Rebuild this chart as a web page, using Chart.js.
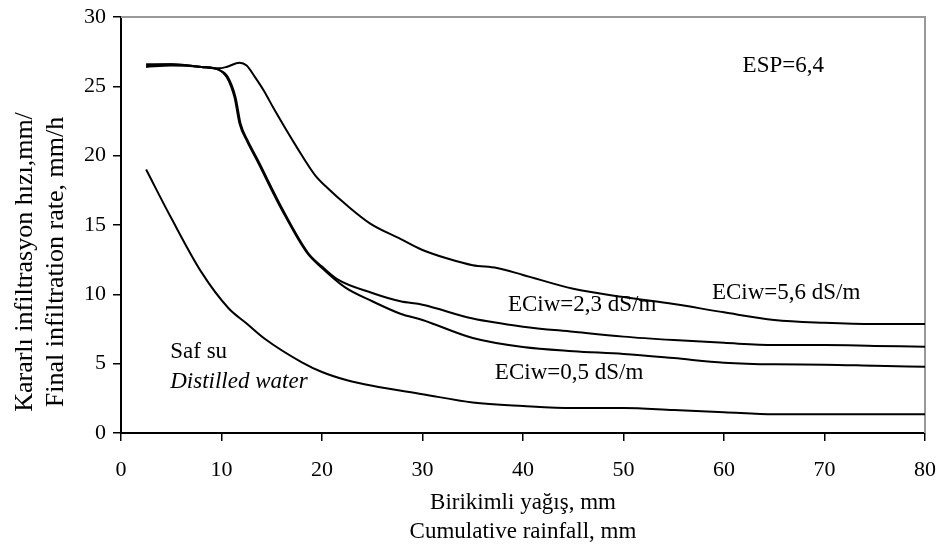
<!DOCTYPE html>
<html>
<head>
<meta charset="utf-8">
<script src="https://cdn.jsdelivr.net/npm/chart.js@4/dist/chart.umd.min.js"></script>
<style>
html,body{margin:0;padding:0;background:#fff;}
canvas{display:block;}
</style>
</head>
<body>
<canvas id="c" width="938" height="551"></canvas>
<script>
// ---- data ----
const distilledX = [2.5, 5, 8, 10.7, 12.5, 14.3, 18, 20, 22.5, 25, 30, 35, 40, 45, 50, 55, 60, 65, 70, 75, 80];
const distilledY = [19, 15.5, 11.6, 9.0, 7.9, 6.8, 5.1, 4.4, 3.8, 3.4, 2.8, 2.2, 1.95, 1.8, 1.8, 1.65, 1.5, 1.35, 1.35, 1.35, 1.35];

const ec05X = [2.5, 5, 8, 9.7, 10.5, 11.3, 11.8, 12.5, 13.5, 16, 18.5, 20, 22.3, 25, 27.8, 30, 35, 40, 45, 50, 55, 60, 65, 70, 75, 80];
const ec05Y = [26.4, 26.5, 26.4, 26.2, 25.7, 24.2, 22.3, 21.1, 19.7, 16.1, 13.0, 11.9, 10.5, 9.5, 8.6, 8.15, 6.85, 6.2, 5.9, 5.7, 5.4, 5.07, 4.95, 4.93, 4.85, 4.78];

const ec23X = [2.5, 5, 8, 9.7, 10.6, 11.4, 11.9, 12.6, 13.6, 16.1, 18.6, 20, 21.5, 25, 27.8, 30, 35, 40, 45, 50, 55, 60, 65, 70, 75, 80];
const ec23Y = [26.5, 26.6, 26.4, 26.2, 25.7, 24.2, 22.3, 21.1, 19.7, 16.1, 13.0, 12.0, 11.1, 10.1, 9.5, 9.25, 8.25, 7.67, 7.3, 6.95, 6.7, 6.5, 6.34, 6.34, 6.28, 6.22];

const ec56X = [2.5, 5, 8, 9.7, 10.5, 11.8, 12.5, 13.3, 14.2, 15.2, 17.5, 19.3, 20.5, 22.5, 24.8, 27.8, 30, 32.4, 35, 37.4, 40, 45, 50, 55, 60, 65, 70, 75, 80];
const ec56Y = [26.6, 26.6, 26.4, 26.3, 26.4, 26.7, 26.5, 25.7, 24.7, 23.4, 20.6, 18.6, 17.7, 16.4, 15.1, 14.0, 13.2, 12.6, 12.1, 11.9, 11.4, 10.4, 9.8, 9.3, 8.7, 8.15, 7.95, 7.86, 7.86];

const seriesNames = ['Saf su', 'ECiw=0,5 dS/m', 'ECiw=2,3 dS/m', 'ECiw=5,6 dS/m'];

// in-plot text labels and their anchors (data units)
const noteTexts = ['ESP=6,4', 'ECiw=5,6 dS/m', 'ECiw=2,3 dS/m', 'ECiw=0,5 dS/m', 'Saf su', 'Distilled water'];
const noteX = [61.85, 58.8, 38.5, 37.2, 4.9, 4.9];
const noteY = [26.5, 10.1, 9.2, 4.35, 5.85, 3.65];
const noteItalic = [false, false, false, false, false, true];

const xTitleLines = ['Birikimli yağış, mm', 'Cumulative rainfall, mm'];
const yTitleLines = ['Kararlı infiltrasyon hızı,mm/', 'Final infiltration rate, mm/h'];

const FONT = '"Liberation Serif", "Times New Roman", serif';

function pts(xs, ys) { return xs.map((x, i) => ({x: x, y: ys[i]})); }

function ds(label, xs, ys) {
  return {
    label: label,
    data: pts(xs, ys),
    borderColor: '#000',
    borderWidth: 2,
    pointRadius: 0,
    fill: false,
    cubicInterpolationMode: 'monotone'
  };
}

const framePlugin = {
  id: 'frame',
  beforeDatasetsDraw(chart) {
    const {ctx, chartArea: a} = chart;
    ctx.save();
    ctx.strokeStyle = '#999';
    ctx.lineWidth = 2;
    ctx.beginPath();
    ctx.moveTo(a.left, a.top);
    ctx.lineTo(a.right, a.top);
    ctx.lineTo(a.right, a.bottom);
    ctx.stroke();
    ctx.restore();
  }
};

const notesPlugin = {
  id: 'notes',
  afterDraw(chart) {
    const {ctx} = chart;
    const xs = chart.scales.x, ys = chart.scales.y;
    ctx.save();
    ctx.fillStyle = '#000';
    ctx.textAlign = 'left';
    ctx.textBaseline = 'middle';
    noteTexts.forEach((t, i) => {
      ctx.font = (noteItalic[i] ? 'italic ' : '') + '23px ' + FONT;
      ctx.fillText(t, xs.getPixelForValue(noteX[i]), ys.getPixelForValue(noteY[i]));
    });
    // y-axis title (two rotated lines)
    ctx.font = '26px ' + FONT;
    ctx.textAlign = 'center';
    ctx.textBaseline = 'alphabetic';
    const cy = 262;
    const baseX = [32, 63];
    yTitleLines.forEach((t, i) => {
      ctx.save();
      ctx.translate(baseX[i], cy);
      ctx.rotate(-Math.PI / 2);
      ctx.fillText(t, 0, 0);
      ctx.restore();
    });
    ctx.restore();
  }
};

new Chart(document.getElementById('c'), {
  type: 'line',
  data: {
    datasets: [
      ds(seriesNames[0], distilledX, distilledY),
      ds(seriesNames[1], ec05X, ec05Y),
      ds(seriesNames[2], ec23X, ec23Y),
      ds(seriesNames[3], ec56X, ec56Y)
    ]
  },
  options: {
    responsive: false,
    animation: false,
    layout: {padding: {top: 17, right: 13, left: 0, bottom: 0}},
    plugins: {legend: {display: false}, tooltip: {enabled: false}},
    scales: {
      x: {
        type: 'linear',
        min: 0, max: 80,
        ticks: {stepSize: 10, color: '#000', padding: 16, font: {family: FONT, size: 22, lineHeight: 1.2}, maxRotation: 0},
        grid: {display: true, drawOnChartArea: false, drawTicks: true, tickLength: 8, color: '#000', lineWidth: 1.5},
        border: {display: true, color: '#000', width: 2},
        title: {display: true, text: xTitleLines, color: '#000', font: {family: FONT, size: 23, lineHeight: 1.26}, padding: {top: 0, bottom: 5}},
        afterFit(scale) { scale.height = 118; scale.paddingLeft = 0; scale.paddingRight = 0; }
      },
      y: {
        type: 'linear',
        min: 0, max: 30,
        ticks: {stepSize: 5, color: '#000', padding: 7, font: {family: FONT, size: 22}},
        grid: {display: true, drawOnChartArea: false, drawTicks: true, tickLength: 8, color: '#000', lineWidth: 1.5},
        border: {display: true, color: '#000', width: 2},
        afterFit(scale) { scale.width = 121; scale.paddingTop = 0; scale.paddingBottom = 0; }
      }
    }
  },
  plugins: [framePlugin, notesPlugin]
});
</script>
</body>
</html>
